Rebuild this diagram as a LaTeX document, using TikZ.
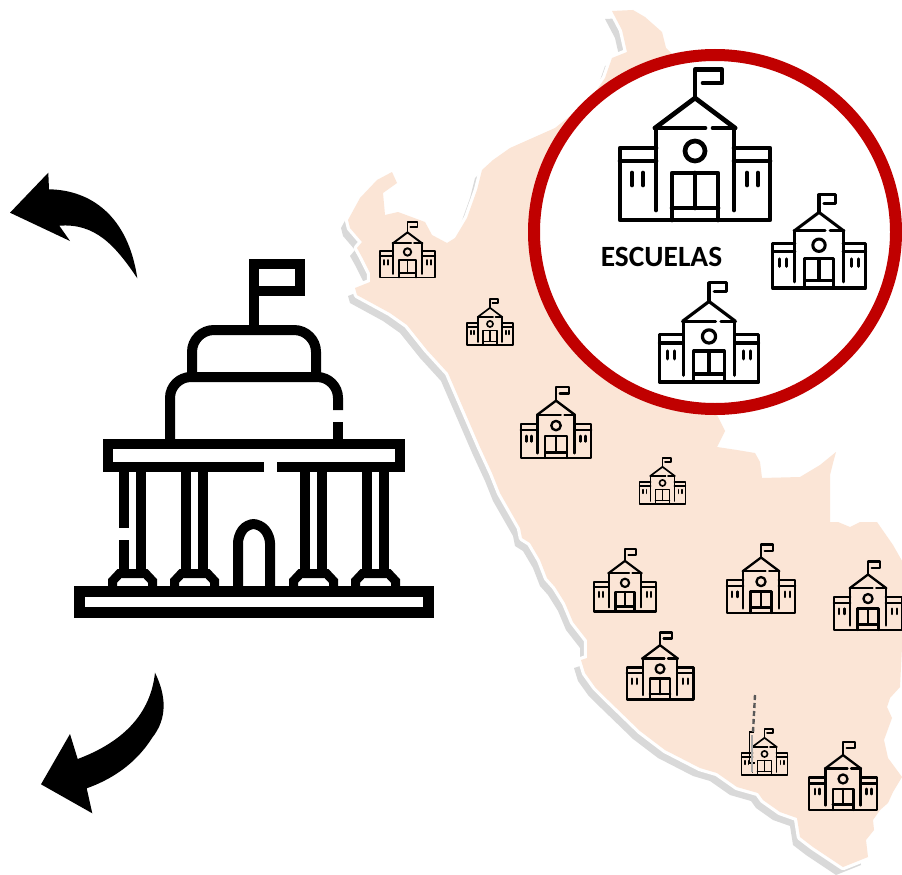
\documentclass[tikz,border=0pt]{standalone}
\usepackage{fontspec}
\setmainfont{Carlito}
\definecolor{mappeach}{HTML}{FBE5D6}
\definecolor{mapshadow}{HTML}{D9D9D9}
\definecolor{ringred}{HTML}{C00000}
\newcommand{\peruoutline}{(612,11) -- (633,10) -- (645,17) -- (662,32) -- (666,48) -- (672,54) -- (700,200)
 -- (717,415) -- (725,431) -- (717,447) -- (737,450) -- (755,453) -- (760,462) -- (762,478) -- (800,477)
 -- (820,465) -- (836,452) -- (833,463) -- (830,475) -- (830,522) -- (838,522) -- (850,527) -- (860,522)
 -- (877,522) -- (893,545) -- (910,575) -- (910,640) -- (902,647) -- (900,687) -- (890,698) -- (887,707)
 -- (892,718) -- (884,740) -- (888,758) -- (902,777) -- (893,792) -- (888,803) -- (880,810) -- (873,820)
 -- (874,830) -- (866,840) -- (868,857) -- (843,867) -- (813,847) -- (800,837) -- (797,818) -- (780,812)
 -- (763,800) -- (758,793) -- (737,787) -- (717,773) -- (700,768) -- (665,750) -- (640,731) -- (608,700)
 -- (595,687) -- (585,673) -- (581,660) -- (587,658) -- (587,640) -- (573,622) -- (565,603) -- (555,587)
 -- (547,578) -- (540,560) -- (530,543) -- (522,538) -- (520,528) -- (500,493) -- (492,473) -- (480,447)
 -- (448,373) -- (427,350) -- (407,325) -- (390,313) -- (357,295) -- (355,288) -- (370,282) -- (370,273)
 -- (362,257) -- (357,248) -- (362,242) -- (350,228) -- (348,220) -- (360,198) -- (377,180) -- (392,172)
 -- (397,183) -- (383,193) -- (385,215) -- (398,212) -- (425,222) -- (432,235) -- (447,243) -- (455,238)
 -- (467,218) -- (477,190) -- (482,170) -- (493,160) -- (510,148) -- (555,128) -- (590,100) -- (605,78)
 -- (612,58) -- (627,52) -- (622,30) -- cycle}
\newcommand{\schoolicon}[3]{%
 \begin{scope}[shift={(#1,#2)},scale=#3,yscale=-1,line width={#3*4.4pt+0.3pt},line cap=round,line join=round]
  \draw (-39,72) -- (-75,72) -- (-75,0) -- (75,0) -- (75,72) -- (39,72);
  \draw (0,122) -- (0,150.5) -- (27,150.5) -- (27,137) -- (8,137);
  \draw (-40,92) -- (0,122) -- (40,92);
  \draw (-40,92) -- (10,92) (18,92) -- (40,92);
  \draw (-39,92) -- (-39,10) (39,92) -- (39,10);
  \draw (-75,59) -- (-39,59) (39,59) -- (75,59);
  \draw (0,69) circle (10);
  \draw (-23,0) -- (-23,47) -- (23,47) -- (23,0);
  \draw (0,47) -- (0,12) (-23,12) -- (23,12);
  \draw (-63,47) -- (-63,35) (-52,47) -- (-52,35) (52,47) -- (52,35) (63,47) -- (63,35);
 \end{scope}}
\tikzset{
 templeline/.style={line width=10pt,line join=miter,line cap=butt},
 bigarrow/.style={fill=black,draw=none},
 schoolcircle/.style={draw=ringred,fill=white,line width=12pt},
 schoollabel/.style={font=\fontsize{29.4}{32}\selectfont\bfseries,inner sep=0pt}
}
\newcommand{\colbase}[1]{%
 \draw[line width=9pt,shift={(#1,0)}] (-20,587) -- (-20,581) -- (-13,573.5) -- (13,573.5) -- (20,581) -- (20,587);}
\begin{document}
\begin{tikzpicture}[x=1pt,y=-1pt]
\useasboundingbox (0,0) rectangle (902,875);
\begin{scope}
\clip (0,0) rectangle (902,875);
% map
\begin{scope}[shift={(-7,8)}]
 \fill[mapshadow] \peruoutline;
\end{scope}
\draw[white,line width=6.5pt,line join=round] \peruoutline;
\fill[mappeach] \peruoutline;
% circle
\draw[schoolcircle] (715,232) ellipse [x radius=181,y radius=177];
\node[schoollabel] (escuelas) at (661.5,257) {ESCUELAS};
% schools
\schoolicon{695}{220}{1}
\schoolicon{819}{288}{0.62}
\schoolicon{709}{382}{0.66}
\schoolicon{407.5}{277.5}{0.37}
\schoolicon{490}{345}{0.305}
\schoolicon{556}{458}{0.47}
\schoolicon{662.5}{504}{0.305}
\schoolicon{625}{611.5}{0.415}
\schoolicon{761}{613}{0.455}
\schoolicon{868}{630}{0.455}
\schoolicon{660}{699.5}{0.445}
\schoolicon{764.5}{775}{0.305}
\schoolicon{843}{810}{0.45}
% spire artefact
\draw[line width=1.8pt] (754,732) -- (749.5,732) -- (749.5,763) -- (755,763);
\draw[black!65,line width=2.4pt,dash pattern=on 5pt off 3pt] (755,695) -- (753,732);
\draw[gray!70,line width=2pt] (752,735) -- (752,772);
% temple
\begin{scope}[templeline]
 \draw (253.5,330) -- (253.5,263.7) -- (300,263.7) -- (300,291) -- (253.5,291);
 \draw (192,377) -- (192,352) arc (180:270:22) -- (294,330) arc (-90:0:22) -- (316,377);
 \draw (170,440) -- (170,398) arc (180:270:21) -- (317,377) arc (-90:0:21) -- (338,410);
 \draw (338,422) -- (338,440);
 \draw (264,467) -- (107.5,467) -- (107.5,443.7) -- (400,443.7) -- (400,467) -- (277,467);
 \draw (124,471) -- (124,528) (124,540) -- (124,570) (141,471) -- (141,570);
 \draw (186,471) -- (186,570) (203,471) -- (203,570);
 \draw (305,471) -- (305,570) (322,471) -- (322,570);
 \draw (367,471) -- (367,570) (384,471) -- (384,570);
 \colbase{132.5}\colbase{194.5}\colbase{313.5}\colbase{375.5}
 \draw[rounded corners=7pt] (238,586) -- (238,536) -- (247,524) -- (260,524) -- (270,536) -- (270,586);
 \draw[line width=11pt] (79.5,591) rectangle (428.5,612.5);
\end{scope}
% arrows
\fill[bigarrow] (10,212.7) -- (48.3,172.7) -- (49,189.3) .. controls (90,190) and (128,215) .. (137.3,278.3) .. controls (115,245) and (95,223) .. (59.3,225.7) -- (70,241) -- cycle;
\fill[bigarrow] (155,672.7) .. controls (166,695) and (168,718) .. (152,738) .. controls (135,765) and (110,780) .. (86.7,788.3) -- (92.3,813.3) -- (41,784.3) -- (70,734) -- (77.7,759) .. controls (115,745) and (150,720) .. cycle;
\end{scope}
\end{tikzpicture}
\end{document}
